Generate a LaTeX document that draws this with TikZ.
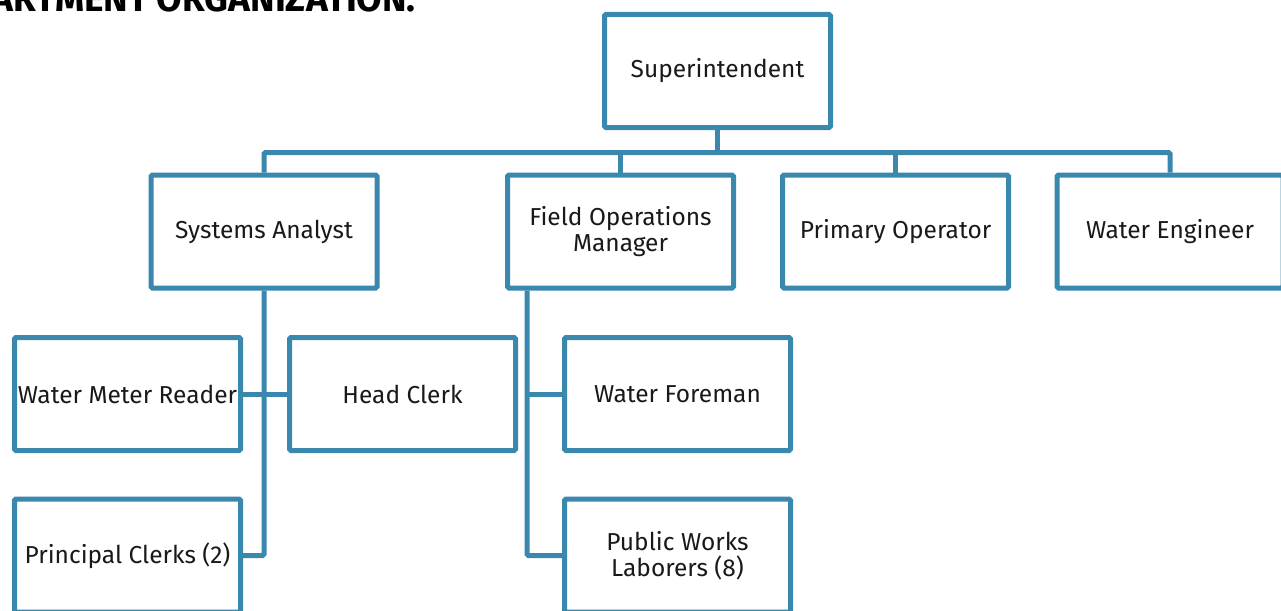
\documentclass[tikz,border=0pt]{standalone}
\usepackage{fontspec}
\setmainfont{Fira Sans}
\usetikzlibrary{positioning}
\definecolor{orgblue}{HTML}{3A88AE}

\begin{document}
\begin{tikzpicture}[
  x=1pt, y=-1pt,
  font=\fontsize{24.5}{26}\selectfont,
  box/.style={
    draw=orgblue,
    fill=white,
    line width=5pt,
    rounded corners=1.5pt,
    align=center,
    inner sep=2pt,
    minimum width=226pt,
    minimum height=113pt,
    text=black!90,
  },
  link/.style={
    draw=orgblue,
    line width=5pt,
  },
]
  \useasboundingbox (0,0) rectangle (1281,610);
  \clip (0,0) rectangle (1281,610);
  % Heading, cut by the top edge
  \node[anchor=base east, inner sep=0pt, font=\fontsize{37}{37}\selectfont\bfseries] (title) at (416,11.5)
    {DEPARTMENT ORGANIZATION:};
  % Top and second row
  \node[box] (sup) at (717.5,71) {Superintendent};
  \coordinate (bus) at (0,152.5);
  \node[box] (sa) at (264,231.5)  {Systems Analyst};
  \node[box] (fo) at (620.5,231.5) {Field Operations\\Manager};
  \node[box] (po) at (895.5,231.5) {Primary Operator};
  \node[box] (we) at (1170,231.5)  {Water Engineer};
  % Lower rows
  \node[box] (wmr) at (127.5,394)  {Water Meter Reader};
  \node[box] (hc)  at (402.5,394)  {Head Clerk};
  \node[box] (wf)  at (677.5,394)  {Water Foreman};
  \node[box] (pc)  at (127.5,555.5) {Principal Clerks (2)};
  \node[box] (pw)  at (677.5,555.5) {Public Works\\Laborers (8)};
  % Connectors
  \draw[link] (sup.south) -- (sup.south |- bus);
  \draw[link, rounded corners=1.5pt] (sa.north) |- (we.north |- bus) -- (we.north);
  \foreach \n in {fo,po} {\draw[link] (\n.north) -- (\n.north |- bus);}
  \draw[link, rounded corners=1.5pt] (sa.south) |- (pc.east);
  \draw[link] (wmr.east) -- (hc.west);
  \coordinate (fotrunk) at ([xshift=22pt]fo.south west);
  \draw[link, rounded corners=1.5pt] (fotrunk) |- (pw.west);
  \draw[link] (fotrunk |- wf.west) -- (wf.west);
\end{tikzpicture}
\end{document}
